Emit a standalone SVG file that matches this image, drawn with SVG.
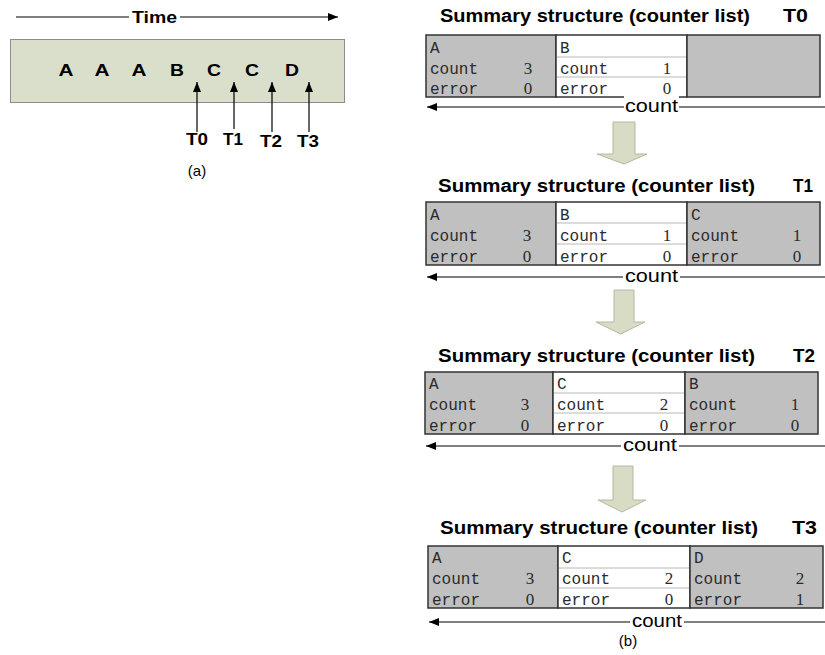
<svg xmlns="http://www.w3.org/2000/svg" width="825" height="655" viewBox="0 0 825 655">
  <defs>
    <marker id="head" viewBox="0 0 10 8" refX="10" refY="4" markerWidth="10" markerHeight="8" markerUnits="userSpaceOnUse" orient="auto">
      <path d="M0,0 L10,4 L0,8 z" fill="#000"/>
    </marker>
    <style>
      .bold { font-family: "Liberation Sans", Arial, sans-serif; font-weight: bold; fill: #000; }
      .plain { font-family: "Liberation Sans", Arial, sans-serif; fill: #000; }
      .cell { font-family: "Liberation Mono", "Courier New", monospace; font-size: 16px; fill: #2a2a2a; }
      .num { font-family: "Liberation Serif", "Times New Roman", serif; font-size: 17px; fill: #2a2a2a; text-anchor: middle; }
      .gray { fill: #c0c0c0; stroke: #333; stroke-width: 1.5; }
      .white { fill: #fff; stroke: #333; stroke-width: 1.5; }
      .rowline { stroke: #b8b8b8; stroke-width: 1; }
      .wire { stroke: #000; stroke-width: 1.2; fill: none; }
      .block { fill: #d8dcc4; stroke: #b4b8a2; stroke-width: 1; }
      .title { font-size: 18px; }
      .cnt { font-size: 18px; }
      .item { font-size: 16px; text-anchor: middle; }
    </style>
  </defs>

  <rect width="825" height="655" fill="#fff"/>

  <!-- (a) stream of items over time -->
  <g id="stream">
    <rect x="10.5" y="39.5" width="334" height="63" fill="#dadfcb" stroke="#8c8c8c" stroke-width="1"/>
    <g class="bold item">
      <text x="66" y="76" textLength="15" lengthAdjust="spacingAndGlyphs">A</text>
      <text x="102" y="76" textLength="15" lengthAdjust="spacingAndGlyphs">A</text>
      <text x="139" y="76" textLength="15" lengthAdjust="spacingAndGlyphs">A</text>
      <text x="177" y="76" textLength="14" lengthAdjust="spacingAndGlyphs">B</text>
      <text x="214" y="76" textLength="14" lengthAdjust="spacingAndGlyphs">C</text>
      <text x="252" y="76" textLength="14" lengthAdjust="spacingAndGlyphs">C</text>
      <text x="292" y="76" textLength="14" lengthAdjust="spacingAndGlyphs">D</text>
    </g>
  </g>

  <g id="time-labels" class="bold" font-size="17" text-anchor="middle">
    <text x="197" y="145" textLength="22" lengthAdjust="spacingAndGlyphs">T0</text>
    <text x="233" y="145" textLength="20" lengthAdjust="spacingAndGlyphs">T1</text>
    <text x="271" y="147" textLength="22" lengthAdjust="spacingAndGlyphs">T2</text>
    <text x="308" y="147" textLength="22" lengthAdjust="spacingAndGlyphs">T3</text>
  </g>

  <text id="caption-a" class="plain" font-size="15" x="197" y="176" text-anchor="middle">(a)</text>

  <!-- (b) counter list snapshots -->
  <g id="panel-t0">
    <text class="bold title" x="440" y="22" textLength="310" lengthAdjust="spacingAndGlyphs">Summary structure (counter list)</text>
    <text class="bold title" x="783" y="22" textLength="25" lengthAdjust="spacingAndGlyphs">T0</text>
    <rect class="gray" x="426" y="35" width="130" height="62"/>
    <rect class="white" x="556" y="35" width="131" height="62"/>
    <rect class="gray" x="687" y="35" width="133" height="62"/>
    <line class="rowline" x1="557" y1="57" x2="686" y2="57"/>
    <line class="rowline" x1="557" y1="77" x2="686" y2="77"/>
    <text class="cell" x="430" y="53">A</text>
    <text class="cell" x="430" y="74">count</text>
    <text class="cell" x="430" y="94">error</text>
    <text class="num" x="528" y="74">3</text>
    <text class="num" x="528" y="94">0</text>
    <text class="cell" x="560" y="53">B</text>
    <text class="cell" x="560" y="74">count</text>
    <text class="cell" x="560" y="94">error</text>
    <text class="num" x="667" y="74">1</text>
    <text class="num" x="667" y="94">0</text>
  </g>

  <g id="panel-t1">
    <text class="bold title" x="438" y="192" textLength="317" lengthAdjust="spacingAndGlyphs">Summary structure (counter list)</text>
    <text class="bold title" x="793" y="192" textLength="20" lengthAdjust="spacingAndGlyphs">T1</text>
    <rect class="gray" x="426" y="202" width="130" height="63"/>
    <rect class="white" x="556" y="202" width="131" height="63"/>
    <rect class="gray" x="687" y="202" width="133" height="63"/>
    <line class="rowline" x1="557" y1="223" x2="686" y2="223"/>
    <line class="rowline" x1="557" y1="244" x2="686" y2="244"/>
    <text class="cell" x="430" y="220">A</text>
    <text class="cell" x="430" y="241">count</text>
    <text class="cell" x="430" y="262">error</text>
    <text class="num" x="527" y="241">3</text>
    <text class="num" x="527" y="262">0</text>
    <text class="cell" x="560" y="220">B</text>
    <text class="cell" x="560" y="241">count</text>
    <text class="cell" x="560" y="262">error</text>
    <text class="num" x="667" y="241">1</text>
    <text class="num" x="667" y="262">0</text>
    <text class="cell" x="691" y="220">C</text>
    <text class="cell" x="691" y="241">count</text>
    <text class="cell" x="691" y="262">error</text>
    <text class="num" x="797" y="241">1</text>
    <text class="num" x="797" y="262">0</text>
  </g>

  <g id="panel-t2">
    <text class="bold title" x="438" y="362" textLength="317" lengthAdjust="spacingAndGlyphs">Summary structure (counter list)</text>
    <text class="bold title" x="793" y="362" textLength="22" lengthAdjust="spacingAndGlyphs">T2</text>
    <rect class="gray" x="425" y="372" width="128" height="62"/>
    <rect class="white" x="553" y="372" width="132" height="62"/>
    <rect class="gray" x="685" y="372" width="133" height="62"/>
    <line class="rowline" x1="554" y1="393" x2="684" y2="393"/>
    <line class="rowline" x1="554" y1="413" x2="684" y2="413"/>
    <text class="cell" x="429" y="389">A</text>
    <text class="cell" x="429" y="410">count</text>
    <text class="cell" x="429" y="431">error</text>
    <text class="num" x="525" y="410">3</text>
    <text class="num" x="525" y="431">0</text>
    <text class="cell" x="557" y="389">C</text>
    <text class="cell" x="557" y="410">count</text>
    <text class="cell" x="557" y="431">error</text>
    <text class="num" x="664" y="410">2</text>
    <text class="num" x="664" y="431">0</text>
    <text class="cell" x="689" y="389">B</text>
    <text class="cell" x="689" y="410">count</text>
    <text class="cell" x="689" y="431">error</text>
    <text class="num" x="795" y="410">1</text>
    <text class="num" x="795" y="431">0</text>
  </g>

  <g id="panel-t3">
    <text class="bold title" x="440" y="534" textLength="318" lengthAdjust="spacingAndGlyphs">Summary structure (counter list)</text>
    <text class="bold title" x="792" y="534" textLength="25" lengthAdjust="spacingAndGlyphs">T3</text>
    <rect class="gray" x="428" y="546" width="130" height="62"/>
    <rect class="white" x="558" y="546" width="132" height="62"/>
    <rect class="gray" x="690" y="546" width="133" height="62"/>
    <line class="rowline" x1="559" y1="568" x2="689" y2="568"/>
    <line class="rowline" x1="559" y1="588" x2="689" y2="588"/>
    <text class="cell" x="432" y="563">A</text>
    <text class="cell" x="432" y="584">count</text>
    <text class="cell" x="432" y="605">error</text>
    <text class="num" x="530" y="584">3</text>
    <text class="num" x="530" y="605">0</text>
    <text class="cell" x="562" y="563">C</text>
    <text class="cell" x="562" y="584">count</text>
    <text class="cell" x="562" y="605">error</text>
    <text class="num" x="669" y="584">2</text>
    <text class="num" x="669" y="605">0</text>
    <text class="cell" x="694" y="563">D</text>
    <text class="cell" x="694" y="584">count</text>
    <text class="cell" x="694" y="605">error</text>
    <text class="num" x="800" y="584">2</text>
    <text class="num" x="800" y="605">1</text>
  </g>

  <text id="caption-b" class="plain" font-size="15" x="628" y="646" text-anchor="middle">(b)</text>

  <g id="connectors">
    <!-- time axis -->
    <line class="wire" x1="16" y1="17" x2="338" y2="17" marker-end="url(#head)"/>
    <rect x="129" y="7" width="51" height="18" fill="#fff"/>
    <text class="bold" font-size="16" x="132" y="23" textLength="45" lengthAdjust="spacingAndGlyphs">Time</text>

    <!-- snapshot pointers -->
    <line class="wire" x1="197" y1="132" x2="197" y2="82" marker-end="url(#head)"/>
    <line class="wire" x1="234" y1="129" x2="234" y2="82" marker-end="url(#head)"/>
    <line class="wire" x1="272" y1="132" x2="272" y2="82" marker-end="url(#head)"/>
    <line class="wire" x1="309" y1="132" x2="309" y2="82" marker-end="url(#head)"/>

    <!-- count direction arrows -->
    <line class="wire" x1="825" y1="107" x2="427" y2="107" marker-end="url(#head)"/>
    <rect x="624" y="96" width="55" height="17" fill="#fff"/>
    <text class="plain cnt" x="625" y="112" textLength="53" lengthAdjust="spacingAndGlyphs">count</text>

    <line class="wire" x1="825" y1="277" x2="427" y2="277" marker-end="url(#head)"/>
    <rect x="623" y="268" width="57" height="16" fill="#fff"/>
    <text class="plain cnt" x="625" y="282" textLength="53" lengthAdjust="spacingAndGlyphs">count</text>

    <line class="wire" x1="825" y1="446" x2="426" y2="446" marker-end="url(#head)"/>
    <rect x="621" y="437" width="58" height="16" fill="#fff"/>
    <text class="plain cnt" x="623" y="451" textLength="54" lengthAdjust="spacingAndGlyphs">count</text>

    <line class="wire" x1="825" y1="622" x2="429" y2="622" marker-end="url(#head)"/>
    <rect x="630" y="613" width="54" height="16" fill="#fff"/>
    <text class="plain cnt" x="632" y="627" textLength="50" lengthAdjust="spacingAndGlyphs">count</text>

    <!-- transitions between snapshots -->
    <path class="block" d="M613,122 H635 V154 H647 L624,164 L597,154 H613 Z"/>
    <path class="block" d="M614,290 H634 V322 H645 L620.5,334 L596,322 H614 Z"/>
    <path class="block" d="M613,466 H633 V500 H646 L622,512 L598,500 H613 Z"/>
  </g>
</svg>
